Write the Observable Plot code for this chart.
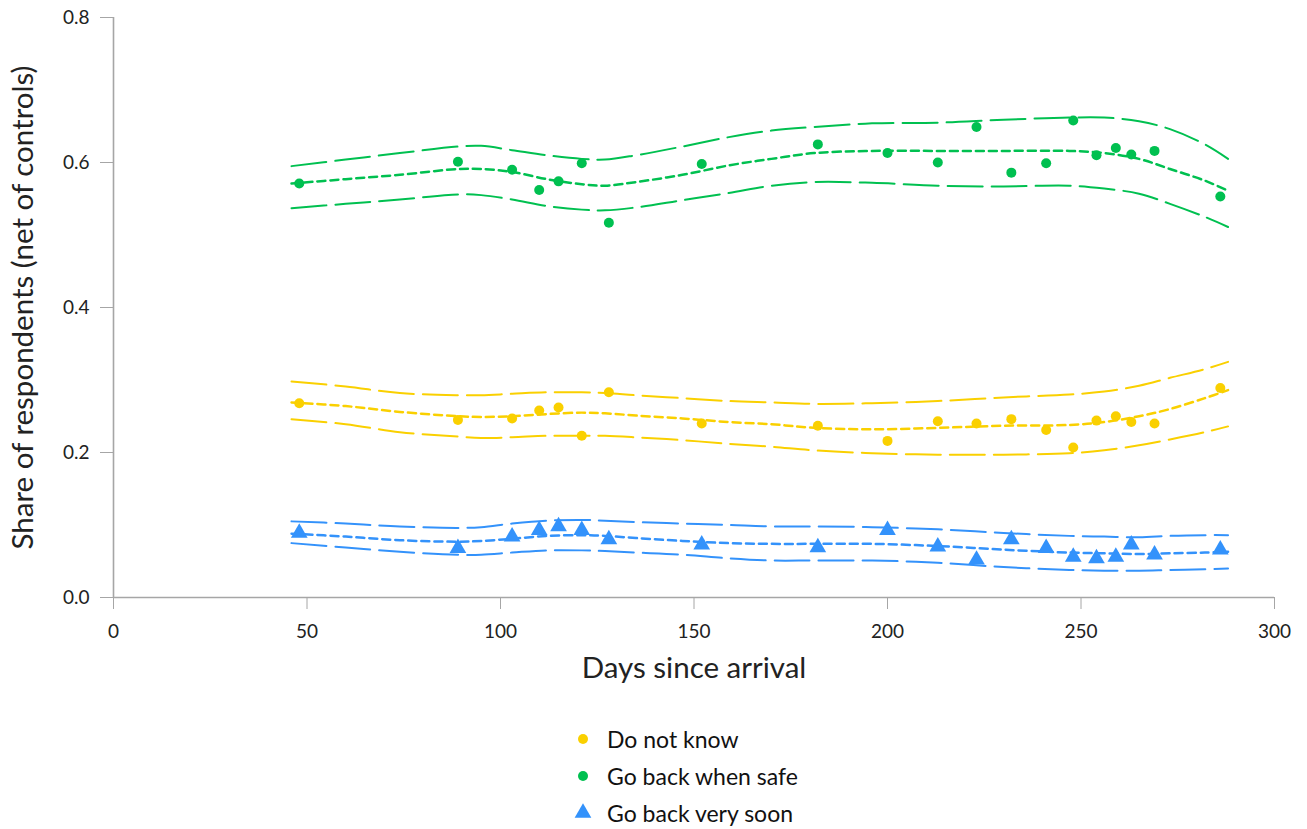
<!DOCTYPE html>
<html>
<head>
<meta charset="utf-8">
<script src="https://cdn.jsdelivr.net/npm/d3@7"></script>
<script src="https://cdn.jsdelivr.net/npm/@observablehq/plot@0.6"></script>
<style>
  html, body { margin: 0; padding: 0; background: #fff; }
  body { font-family: Lato, "Noto Sans", sans-serif; width: 1307px; }
  #legend { margin-left: 573px; margin-top: 20px; }
  .row { display: flex; align-items: center; height: 37px; font-size: 23px; color: #111; }
  .row svg { width: 20px; height: 20px; margin-right: 14px; }
</style>
</head>
<body>
<div id="chart"></div>
<div id="legend"></div>
<script>
// Observation days (points)
const days = [48, 89, 103, 110, 115, 121, 128, 152, 182, 200, 213, 223, 232, 241, 248, 254, 259, 263, 269, 286];
// Point values per series
const doNotKnow      = [0.268, 0.245, 0.247, 0.258, 0.262, 0.223, 0.283, 0.240, 0.237, 0.216, 0.243, 0.240, 0.246, 0.231, 0.207, 0.244, 0.250, 0.242, 0.240, 0.289];
const goBackWhenSafe = [0.571, 0.601, 0.590, 0.562, 0.574, 0.599, 0.517, 0.598, 0.625, 0.613, 0.600, 0.649, 0.586, 0.599, 0.658, 0.610, 0.620, 0.611, 0.616, 0.553];
const goBackVerySoon = [0.089, 0.068, 0.084, 0.093, 0.098, 0.093, 0.080, 0.073, 0.069, 0.093, 0.070, 0.052, 0.080, 0.068, 0.056, 0.054, 0.056, 0.073, 0.059, 0.066];

// Smoothed fit and confidence bounds, read at these days
const curveDays = [46, 60, 74, 89, 95, 103, 112, 121, 127, 135, 147, 159, 170, 181, 196, 213, 230, 247, 256, 265, 273, 282, 288];
const dnkFit  = [0.269, 0.264, 0.256, 0.250, 0.249, 0.250, 0.253, 0.255, 0.254, 0.251, 0.247, 0.242, 0.239, 0.234, 0.232, 0.234, 0.237, 0.238, 0.242, 0.250, 0.260, 0.275, 0.286];
const dnkLo   = [0.246, 0.239, 0.228, 0.222, 0.220, 0.221, 0.223, 0.223, 0.223, 0.221, 0.217, 0.212, 0.208, 0.203, 0.199, 0.197, 0.197, 0.199, 0.203, 0.210, 0.218, 0.228, 0.236];
const dnkHi   = [0.298, 0.291, 0.282, 0.279, 0.279, 0.281, 0.283, 0.283, 0.282, 0.279, 0.275, 0.271, 0.269, 0.267, 0.268, 0.271, 0.276, 0.280, 0.284, 0.292, 0.303, 0.315, 0.325];
const safeFit = [0.571, 0.577, 0.583, 0.591, 0.591, 0.587, 0.577, 0.570, 0.568, 0.573, 0.583, 0.596, 0.605, 0.613, 0.616, 0.616, 0.616, 0.616, 0.613, 0.605, 0.591, 0.575, 0.561];
const safeLo  = [0.537, 0.543, 0.549, 0.556, 0.555, 0.549, 0.540, 0.535, 0.534, 0.538, 0.548, 0.558, 0.568, 0.573, 0.572, 0.568, 0.567, 0.568, 0.564, 0.557, 0.543, 0.525, 0.511];
const safeHi  = [0.595, 0.604, 0.613, 0.622, 0.623, 0.617, 0.610, 0.605, 0.604, 0.610, 0.622, 0.635, 0.644, 0.649, 0.654, 0.655, 0.659, 0.662, 0.662, 0.657, 0.646, 0.625, 0.605];
const soonFit = [0.088, 0.084, 0.079, 0.077, 0.078, 0.081, 0.085, 0.086, 0.085, 0.082, 0.078, 0.075, 0.074, 0.074, 0.074, 0.071, 0.066, 0.062, 0.061, 0.060, 0.061, 0.062, 0.063];
const soonLo  = [0.075, 0.069, 0.063, 0.059, 0.059, 0.062, 0.065, 0.065, 0.064, 0.062, 0.059, 0.054, 0.051, 0.051, 0.051, 0.048, 0.042, 0.038, 0.037, 0.037, 0.038, 0.039, 0.040];
const soonHi  = [0.105, 0.102, 0.098, 0.096, 0.097, 0.102, 0.106, 0.107, 0.106, 0.104, 0.102, 0.100, 0.098, 0.098, 0.097, 0.094, 0.089, 0.085, 0.084, 0.083, 0.085, 0.086, 0.086];

const xTicks = [0, 50, 100, 150, 200, 250, 300];
const yTicks = [0, 0.2, 0.4, 0.6, 0.8];

const series = [
  {name: "Do not know",       color: "#fad000", symbol: "circle",   r: 5, pts: doNotKnow,      fit: dnkFit,  lo: dnkLo,  hi: dnkHi},
  {name: "Go back when safe", color: "#00c050", symbol: "circle",   r: 5, pts: goBackWhenSafe, fit: safeFit, lo: safeLo, hi: safeHi},
  {name: "Go back very soon", color: "#3392fb", symbol: "triangle", r: 6.2, pts: goBackVerySoon, fit: soonFit, lo: soonLo, hi: soonHi}
];

const marks = [
  Plot.ruleX([0], {y1: 0, y2: 0.8, stroke: "#a6a6a6", strokeWidth: 1.6}),
  Plot.ruleY([0], {x1: 0, x2: 300, stroke: "#a6a6a6", strokeWidth: 1.6}),
  Plot.axisY({ticks: yTicks, tickFormat: d3.format(".1f"), tickSize: 13, tickPadding: 11, fontSize: 19, stroke: "#a6a6a6", color: "#222",
    label: "Share of respondents (net of controls)", labelAnchor: "center", labelArrow: "none", labelOffset: 101}),
  Plot.axisX({ticks: xTicks, tickSize: 12, tickPadding: 15, fontSize: 19, stroke: "#a6a6a6", color: "#222",
    label: "Days since arrival", labelAnchor: "center", labelArrow: "none", labelOffset: 80})
];

for (const s of series) {
  const mk = arr => curveDays.map((d, i) => ({d, v: arr[i]}));
  marks.push(Plot.line(mk(s.hi),  {x: "d", y: "v", stroke: s.color, strokeWidth: 2, strokeDasharray: "35,9", curve: "catmull-rom"}));
  marks.push(Plot.line(mk(s.lo),  {x: "d", y: "v", stroke: s.color, strokeWidth: 2, strokeDasharray: "35,9", curve: "catmull-rom"}));
  marks.push(Plot.line(mk(s.fit), {x: "d", y: "v", stroke: s.color, strokeWidth: 2.5, strokeDasharray: "8,5", curve: "catmull-rom"}));
}
for (const s of series) {
  marks.push(Plot.dot(days.map((d, i) => ({d, v: s.pts[i]})), {x: "d", y: "v", fill: s.color, symbol: s.symbol, r: s.r, stroke: "none"}));
}

const chart = Plot.plot({
  width: 1307,
  height: 700,
  marginLeft: 113,
  marginRight: 33,
  marginTop: 17,
  marginBottom: 103,
  style: {fontFamily: "Lato, 'Noto Sans', sans-serif", fontSize: "29.5px", color: "#111", background: "#fff"},
  x: {domain: [0, 300]},
  y: {domain: [0, 0.8]},
  marks
});
chart.querySelectorAll("g[aria-label='y-axis label'], g[aria-label='x-axis label']").forEach(g => {
  g.setAttribute("font-size", "29.5px");
  g.querySelectorAll("text").forEach(t => t.setAttribute("font-size", "29.5px"));
});
document.getElementById("chart").appendChild(chart);

const legend = document.getElementById("legend");
for (const s of series) {
  const row = document.createElement("div");
  row.className = "row";
  const sym = s.symbol === "circle"
    ? `<circle cx="10" cy="10" r="5" fill="${s.color}"/>`
    : `<path d="${d3.symbol(d3.symbolTriangle, Math.PI * 6.2 * 6.2)()}" transform="translate(10,10)" fill="${s.color}"/>`;
  row.innerHTML = `<svg viewBox="0 0 20 20">${sym}</svg><span>${s.name}</span>`;
  legend.appendChild(row);
}
</script>
</body>
</html>
